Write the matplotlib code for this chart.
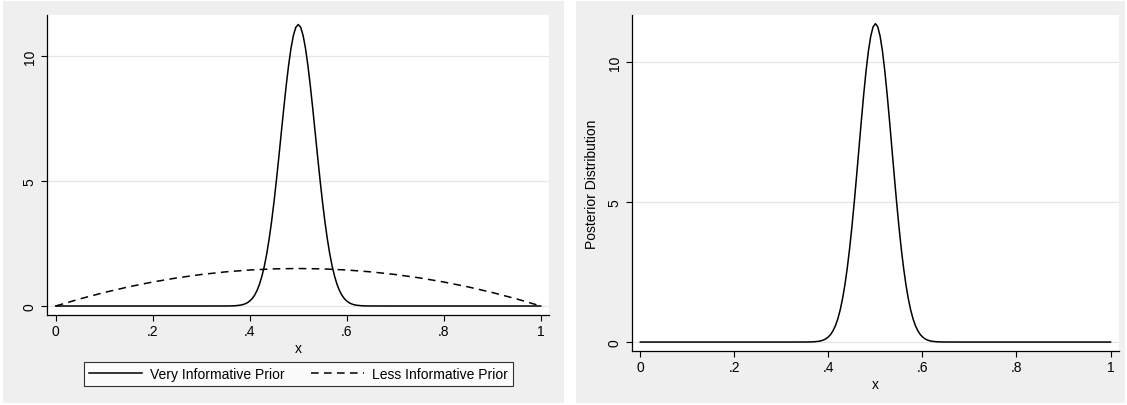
"""
Prior vs posterior densities, two Stata-style panels side by side
"""

import matplotlib
matplotlib.use('Agg')
import matplotlib.pyplot as plt
from matplotlib.patches import Rectangle
from matplotlib.lines import Line2D

plt.rcParams['font.family'] = ['Liberation Sans', 'DejaVu Sans']

# x grid for the narrow curves (finer around the peak)
x_peak = [0.00, 0.10, 0.20, 0.30, 0.35, 0.36, 0.37, 0.38, 0.385, 0.39, 0.395,
          0.40, 0.405, 0.41, 0.415, 0.42, 0.425, 0.43, 0.435, 0.44, 0.445,
          0.45, 0.455, 0.46, 0.465, 0.47, 0.475, 0.48, 0.485, 0.49, 0.495,
          0.50, 0.505, 0.51, 0.515, 0.52, 0.525, 0.53, 0.535, 0.54, 0.545,
          0.55, 0.555, 0.56, 0.565, 0.57, 0.575, 0.58, 0.585, 0.59, 0.595,
          0.60, 0.605, 0.61, 0.615, 0.62, 0.63, 0.64, 0.65, 0.70, 0.80,
          0.90, 1.00]

# very informative prior (solid, left panel)
very_prior = [0, 0, 0, 0, 0.001, 0.0035, 0.011, 0.032, 0.052, 0.083, 0.130,
              0.198, 0.296, 0.432, 0.618, 0.864, 1.184, 1.587, 2.083, 2.679, 3.374,
              4.163, 5.033, 5.963, 6.924, 7.879, 8.789, 9.609, 10.300, 10.823, 11.149,
              11.26, 11.149, 10.823, 10.300, 9.609, 8.789, 7.879, 6.924, 5.963, 5.033,
              4.163, 3.374, 2.679, 2.083, 1.587, 1.184, 0.864, 0.618, 0.432, 0.296,
              0.198, 0.130, 0.083, 0.052, 0.032, 0.011, 0.0035, 0.001, 0, 0,
              0, 0]

# posterior (right panel)
posterior = [0, 0, 0, 0, 0.001, 0.003, 0.0097, 0.028, 0.047, 0.076, 0.120,
             0.184, 0.277, 0.408, 0.588, 0.828, 1.142, 1.540, 2.033, 2.628, 3.325,
             4.120, 5.001, 5.945, 6.923, 7.899, 8.830, 9.672, 10.382, 10.920, 11.256,
             11.37, 11.256, 10.920, 10.382, 9.672, 8.830, 7.899, 6.923, 5.945, 5.001,
             4.120, 3.325, 2.628, 2.033, 1.540, 1.142, 0.828, 0.588, 0.408, 0.277,
             0.184, 0.120, 0.076, 0.047, 0.028, 0.0097, 0.003, 0.001, 0, 0,
             0, 0]

# less informative prior (dashed, left panel)
x_wide = [0.00, 0.05, 0.10, 0.15, 0.20, 0.25, 0.30, 0.35, 0.40, 0.45, 0.50,
          0.55, 0.60, 0.65, 0.70, 0.75, 0.80, 0.85, 0.90, 0.95, 1.00]
less_prior = [0, 0.285, 0.54, 0.765, 0.96, 1.125, 1.26, 1.365, 1.44, 1.485, 1.5,
              1.485, 1.44, 1.365, 1.26, 1.125, 0.96, 0.765, 0.54, 0.285, 0]

x_ticks = [0, 0.2, 0.4, 0.6, 0.8, 1.0]
x_tick_labels = ['0', '.2', '.4', '.6', '.8', '1']
y_ticks = [0, 5, 10]

W, H = 1127, 406
BG = '#EFEFEF'
GRID = '#E6E6E6'


def px_axes(fig, left, right, top, bottom):
    """Add axes from pixel edges (origin top-left)"""
    return fig.add_axes([left / W, (H - bottom) / H, (right - left) / W, (bottom - top) / H])


def style_axes(ax, xlim, ylim):
    ax.set_xlim(*xlim)
    ax.set_ylim(*ylim)
    ax.set_facecolor('white')
    for side in ['top', 'right']:
        ax.spines[side].set_visible(False)
    for side in ['left', 'bottom']:
        ax.spines[side].set_linewidth(0.9)
        ax.spines[side].set_color('black')
    ax.set_xticks(x_ticks)
    ax.set_xticklabels(x_tick_labels)
    ax.set_yticks(y_ticks)
    ax.tick_params(axis='both', labelsize=10, length=4.5, width=0.8, colors='black')
    ax.tick_params(axis='x', pad=2)
    ax.tick_params(axis='y', pad=3)
    for lbl in ax.get_yticklabels():
        lbl.set_rotation(90)
        lbl.set_va('center')
    ax.yaxis.grid(True, color=GRID, linewidth=0.9)
    ax.set_axisbelow(True)
    ax.set_xlabel('x', fontsize=10, labelpad=2)


fig = plt.figure(figsize=(W / 100, H / 100), dpi=100)
fig.patch.set_facecolor('white')

# outer gray regions of each graph
fig.add_artist(Rectangle((3 / W, 2 / H), (564 - 3) / W, (404 - 2) / H,
                         transform=fig.transFigure, facecolor=BG, edgecolor='none', zorder=0))
fig.add_artist(Rectangle((576 / W, 2 / H), (1125 - 576) / W, (404 - 2) / H,
                         transform=fig.transFigure, facecolor=BG, edgecolor='none', zorder=0))

# === LEFT: priors ===
ax1 = px_axes(fig, 47, 549, 16, 316)
style_axes(ax1, (-0.018, 1.017), (-0.36, 11.64))
ax1.plot(x_peak, very_prior, color='black', lw=1.1, label='Very Informative Prior')
ax1.plot(x_wide, less_prior, color='black', lw=1.1, dashes=(5, 3.5), label='Less Informative Prior')

handles = [Line2D([], [], color='black', lw=1.1),
           Line2D([], [], color='black', lw=1.1, dashes=(5, 3.5))]
leg = fig.legend(handles, ['Very Informative Prior', 'Less Informative Prior'],
                 loc='center', bbox_to_anchor=(298.5 / W, (H - 375) / H), ncol=2,
                 fontsize=10, frameon=True, fancybox=False, handlelength=3.8,
                 columnspacing=1.9, borderpad=0.35, borderaxespad=0,
                 handletextpad=0.6)
leg.get_frame().set_edgecolor('black')
leg.get_frame().set_linewidth(0.8)
leg._legend_box.sep = 4

# === RIGHT: posterior ===
ax2 = px_axes(fig, 632, 1119, 16, 352)
style_axes(ax2, (-0.0177, 1.018), (-0.32, 11.68))
ax2.plot(x_peak, posterior, color='black', lw=1.1)
ax2.set_ylabel('Posterior Distribution', fontsize=10, labelpad=6)

fig.savefig('out.png', dpi=100)
